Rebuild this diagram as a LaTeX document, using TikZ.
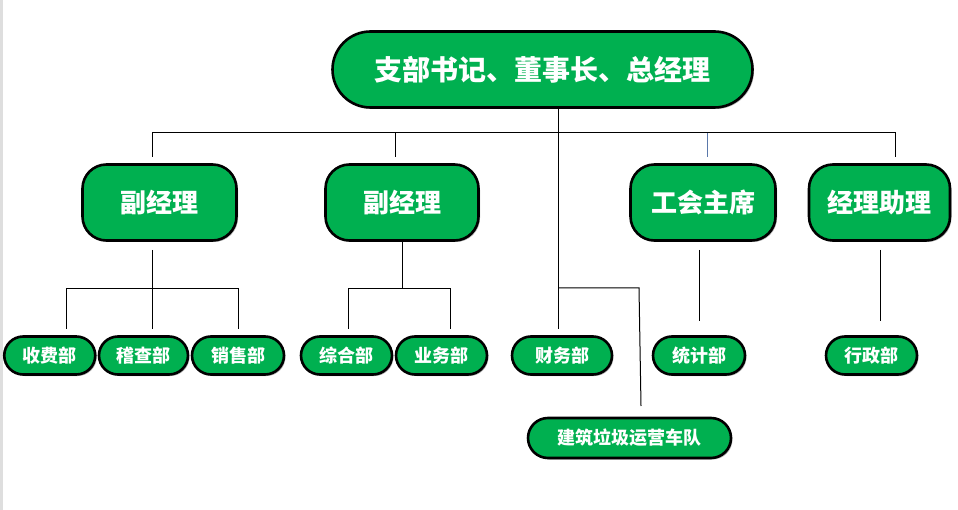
\documentclass[tikz,border=0pt]{standalone}
\usepackage{fontspec}
\newfontfamily\cjk{Noto Sans CJK SC}
\usetikzlibrary{shapes.misc,shadows}
\definecolor{boxgreen}{RGB}{0,176,80}
\definecolor{linkblue}{RGB}{90,120,170}
\definecolor{edgegray}{RGB}{222,222,222}
\begin{document}
\begin{tikzpicture}[x=1pt,y=-1pt,
  box/.style={draw=black,line width=2.6pt,fill=boxgreen,text=white,inner sep=0pt,
    drop shadow={shadow xshift=1.5pt,shadow yshift=-1.5pt,fill=black,opacity=0.3}},
  pill/.style={box,rounded rectangle},
  rbox/.style={box,rectangle,rounded corners=24pt,minimum height=76pt,font=\cjk\bfseries\fontsize{26}{26}\selectfont},
  small/.style={pill,minimum height=38pt,font=\cjk\bfseries\fontsize{18}{18}\selectfont},
  conn/.style={line width=1pt,black}]
\useasboundingbox (0,0) rectangle (958,510);
\fill[edgegray] (0,0) rectangle (3,510);
% nodes
\node[pill,minimum width=420pt,minimum height=76pt,font=\cjk\bfseries\fontsize{28}{28}\selectfont] (top) at (542.5,69.5) {支部书记、董事长、总经理};
\node[rbox,minimum width=154pt] (vm1) at (159.5,202.5) {副经理};
\node[rbox,minimum width=153pt] (vm2) at (402,202.5) {副经理};
\node[rbox,minimum width=145pt] (gh) at (703,202.5) {工会主席};
\node[rbox,minimum width=141pt] (jl) at (879.5,202.5) {经理助理};
\node[small,minimum width=91pt] (sf) at (49.75,355.5) {收费部};
\node[small,minimum width=89pt] (jc) at (143.5,355.5) {稽查部};
\node[small,minimum width=92pt] (xs) at (238,355.5) {销售部};
\node[small,minimum width=91pt] (zh) at (346.5,355.5) {综合部};
\node[small,minimum width=91pt] (yw) at (441.5,355.5) {业务部};
\node[small,minimum width=100pt] (cw) at (562,355.5) {财务部};
\node[small,minimum width=92pt] (tj) at (699,355.5) {统计部};
\node[small,minimum width=91pt] (xz) at (871.5,355.5) {行政部};
\node[small,minimum width=203pt,minimum height=40pt] (cd) at (629.5,438) {建筑垃圾运营车队};
% coordinates
\coordinate (tb) at (558,109);
\coordinate (bl) at (152,133);
\coordinate (br) at (895,133);
\coordinate (bm) at (558,133);
\coordinate (d1) at (152,157);
\coordinate (d2) at (395,157);
\coordinate (d2t) at (395,133);
\coordinate (d3) at (707,157);
\coordinate (d3t) at (707,133);
\coordinate (d4) at (895,157);
\coordinate (mainend) at (558,329);
\coordinate (fork) at (558,288);
\coordinate (forkr) at (639,288);
\coordinate (cdtop) at (641,406);
% level 1 bus
\draw[conn] (tb) -- (mainend);
\draw[conn] (d1) -- (bl) -- (br) -- (d4);
\draw[conn] (d2t) -- (d2);
\draw[line width=1pt,linkblue] (d3t) -- (d3);
\draw[conn] (fork) -- (forkr) -- (cdtop);
% vm1 group
\coordinate (v1a) at (152,250);
\coordinate (v1b) at (152,329);
\coordinate (v1l) at (66,289);
\coordinate (v1r) at (238,289);
\coordinate (v1ld) at (66,329);
\coordinate (v1rd) at (238,329);
\draw[conn] (v1a) -- (v1b);
\draw[conn] (v1ld) -- (v1l) -- (v1r) -- (v1rd);
% vm2 group
\coordinate (v2a) at (402.5,242);
\coordinate (v2b) at (402.5,289);
\coordinate (v2l) at (348,289);
\coordinate (v2r) at (450,289);
\coordinate (v2ld) at (348,329);
\coordinate (v2rd) at (450,329);
\draw[conn] (v2a) -- (v2b);
\draw[conn] (v2ld) -- (v2l) -- (v2r) -- (v2rd);
% single drops
\coordinate (g1) at (699,250);
\coordinate (g2) at (699,321);
\draw[conn] (g1) -- (g2);
\coordinate (j1) at (880,250);
\coordinate (j2) at (880,321);
\draw[conn] (j1) -- (j2);
\end{tikzpicture}
\end{document}
